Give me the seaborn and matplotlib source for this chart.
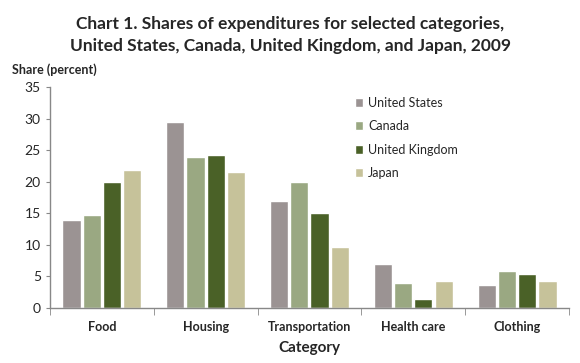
import pandas as pd
import numpy as np
import matplotlib
matplotlib.use('Agg')
import matplotlib.pyplot as plt
import seaborn as sns

# Données
categories = ['Food', 'Housing', 'Transportation', 'Health care', 'Clothing']
countries = ['United States', 'Canada', 'United Kingdom', 'Japan']
united_states = [14.0, 29.5, 16.9, 6.9, 3.7]
canada = [14.8, 24.0, 19.9, 4.0, 5.8]
united_kingdom = [19.9, 24.2, 15.1, 1.4, 5.4]
japan = [21.8, 21.6, 9.7, 4.2, 4.2]

colors = ['#9b9393', '#9aa882', '#4a6127', '#c6c29a']

df = pd.DataFrame({
    'category': categories * 4,
    'country': np.repeat(countries, len(categories)),
    'share': united_states + canada + united_kingdom + japan,
})

sns.set_style('white')
plt.rcParams['font.family'] = ['Lato', 'DejaVu Sans']

fig = plt.figure(figsize=(5.8, 3.63), dpi=100)
ax = fig.add_axes([0.086, 0.1515, 0.895, 0.6085])

sns.barplot(data=df, x='category', y='share', hue='country', order=categories,
            hue_order=countries, palette=colors, width=0.78, gap=0.1,
            saturation=1, ax=ax, legend=True)

ax.set_ylim(0, 35)
ax.set_yticks(range(0, 36, 5))
ax.set_xlim(-0.5, len(categories) - 0.5)
ax.tick_params(axis='y', labelsize=10, length=3, color='#888888', direction='out', left=True)
ax.tick_params(axis='x', which='major', length=0, labelsize=9, pad=9)
ax.set_xticks(np.arange(-0.5, len(categories)), minor=True)
ax.tick_params(axis='x', which='minor', length=5, color='#888888', direction='out', bottom=True)
for lab in ax.get_xticklabels():
    lab.set_fontweight('bold')

for side in ['top', 'right']:
    ax.spines[side].set_visible(False)
for side in ['left', 'bottom']:
    ax.spines[side].set_color('#888888')
    ax.spines[side].set_linewidth(1)

ax.set_xlabel('Category', fontsize=11, fontweight='bold', labelpad=6)
ax.set_ylabel('')
fig.text(0.02, 0.79, 'Share (percent)', fontsize=9, fontweight='bold', ha='left', va='bottom')

fig.text(0.5, 0.955, 'Chart 1. Shares of expenditures for selected categories,\n'
         'United States, Canada, United Kingdom, and Japan, 2009',
         ha='center', va='top', fontsize=12.5, fontweight='bold', linespacing=1.4)

handles, labels = ax.get_legend_handles_labels()
ax.legend(handles, labels, loc='upper left', bbox_to_anchor=(0.592, 0.765),
          bbox_transform=fig.transFigure, frameon=False, fontsize=9,
          handlelength=0.7, handleheight=0.7, handletextpad=0.4, labelspacing=0.92)

plt.savefig('out.png', dpi=100)
